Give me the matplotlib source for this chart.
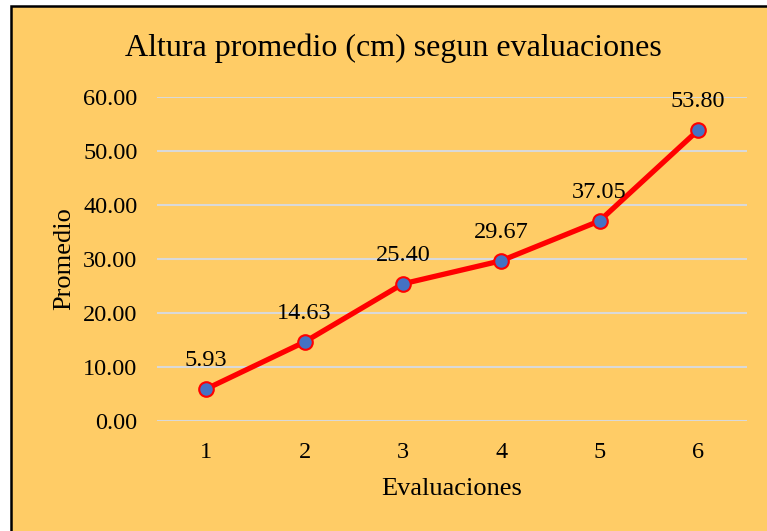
import matplotlib.pyplot as plt
from matplotlib.patches import Rectangle

evaluaciones = [1, 2, 3, 4, 5, 6]
promedio = [5.93, 14.63, 25.40, 29.67, 37.05, 53.80]
etiquetas = ['5.93', '14.63', '25.40', '29.67', '37.05', '53.80']

plt.rcParams['font.family'] = ['Liberation Serif', 'DejaVu Serif']

fondo = '#FFCC66'
fig = plt.figure(figsize=(7.67, 5.31), dpi=100)
fig.patch.set_facecolor('white')

# marco negro con fondo naranja
marco = Rectangle((11 / 767, -0.05), 1.0, (531 - 6) / 531 + 0.05, transform=fig.transFigure,
                  facecolor=fondo, edgecolor='black', linewidth=1.8, zorder=-1)
fig.patches.append(marco)

ax = fig.add_axes([157 / 767, 110 / 531, 590 / 767, 324 / 531])
ax.set_zorder(2)
ax.patch.set_alpha(0)

ax.plot(evaluaciones, promedio, color='#FF0000', linewidth=3.8, marker='o',
        markersize=10.5, markerfacecolor='#4472C4', markeredgecolor='#FF0000',
        markeredgewidth=1.5, zorder=3)

for x, y, t in zip(evaluaciones, promedio, etiquetas):
    ax.annotate(t, (x, y), xytext=(0, 13), textcoords='offset points',
                ha='center', va='bottom', fontsize=17.5)

ax.set_xlim(0.5, 6.5)
ax.set_ylim(0, 60)
ax.set_yticks([0, 10, 20, 30, 40, 50, 60])
ax.set_yticklabels(['%.2f' % v for v in [0, 10, 20, 30, 40, 50, 60]])
ax.set_xticks(evaluaciones)
ax.tick_params(axis='both', length=0, labelsize=17.5)
ax.tick_params(axis='x', pad=15)
ax.tick_params(axis='y', pad=14)
ax.grid(axis='y', color='#D9D9D9', linewidth=1.5)
ax.set_axisbelow(True)
for s in ax.spines.values():
    s.set_visible(False)

ax.set_xlabel('Evaluaciones', fontsize=19, labelpad=11)
ax.set_ylabel('Promedio', fontsize=19, labelpad=6)

fig.text(393 / 767, 1 - 48 / 531, 'Altura promedio (cm) segun evaluaciones',
         ha='center', va='center', fontsize=23)

plt.savefig('out.png', dpi=100, facecolor=fig.get_facecolor())
plt.close()
